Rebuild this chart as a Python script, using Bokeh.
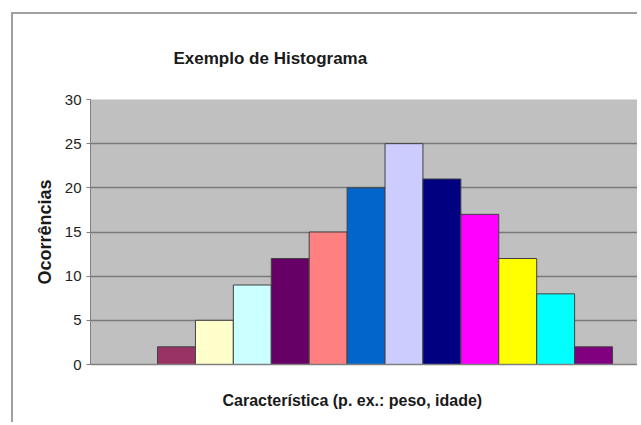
from bokeh.plotting import figure
from bokeh.models import Title, FixedTicker, Range1d
from bokeh.embed import file_html
from bokeh.resources import INLINE

# ---- data ----
classes = [1, 2, 3, 4, 5, 6, 7, 8, 9, 10, 11, 12]
occurrences = [2, 5, 9, 12, 15, 20, 25, 21, 17, 12, 8, 2]
bar_colors = ["#993366", "#FFFFCC", "#CCFFFF", "#660066", "#FF8080", "#0066CC",
              "#CCCCFF", "#000080", "#FF00FF", "#FFFF00", "#00FFFF", "#800080"]
y_ticks = [0, 5, 10, 15, 20, 25, 30]
hidden_ticks = [0]   # invisible tick used only to reserve space below the frame

title_text = "Exemplo de Histograma"
x_label = "Característica (p. ex.: peso, idade)"
y_label = "Ocorrências"

FONT = "Liberation Sans"

# canvas starts at (13, 14) inside the chart border
p = figure(width=626, height=410, output_backend="svg", toolbar_location=None,
           x_range=Range1d(-1.267, 13.211), y_range=Range1d(0, 30),
           min_border_left=77, min_border_top=85, min_border_bottom=60,
           min_border_right=0)
p.styles = {"margin-left": "11px", "margin-top": "12px",
            "border-left": "2px solid #a0a0a0", "border-top": "2px solid #a0a0a0"}

p.background_fill_color = "#C0C0C0"
p.border_fill_color = "white"
p.outline_line_color = None

p.vbar(x=classes, top=occurrences, width=1.0, fill_color=bar_colors,
       line_color="#404040", line_width=1)

# chart title
t = Title(text=title_text, align="left", offset=83, standoff=64,
          text_font=FONT, text_font_size="17px", text_font_style="bold",
          text_color="#1a1a1a")
p.add_layout(t, "above")

# y axis
yax = p.left[0]
yax.ticker = FixedTicker(ticks=y_ticks)
yax.axis_line_color = "#808080"
yax.axis_line_width = 1
yax.major_tick_line_color = "#808080"
yax.major_tick_out = 4
yax.major_tick_in = 0
yax.minor_tick_line_color = None
yax.major_label_text_font = FONT
yax.major_label_text_font_size = "15px"
yax.major_label_text_color = "#222222"
yax.major_label_standoff = 5
yax.axis_label = y_label
yax.axis_label_text_font = FONT
yax.axis_label_text_font_size = "18px"
yax.axis_label_text_font_style = "bold"
yax.axis_label_text_color = "#1a1a1a"
yax.axis_label_standoff = 7

# x axis: baseline only (an invisible tick spaces the axis title)
xax = p.below[0]
xax.ticker = FixedTicker(ticks=hidden_ticks)
xax.axis_line_color = "#808080"
xax.axis_line_width = 1.5
xax.major_tick_line_color = None
xax.minor_tick_line_color = None
xax.major_tick_out = 25
xax.major_tick_in = 0
xax.minor_tick_out = 0
xax.minor_tick_in = 0
xax.major_label_standoff = 0
xax.major_label_text_color = None
xax.major_label_text_font_size = "2px"

xt = Title(text=x_label, align="left", offset=132, standoff=0,
           text_font=FONT, text_font_size="16px", text_font_style="bold",
           text_color="#1a1a1a")
p.add_layout(xt, "below")

# grid
p.xgrid.grid_line_color = None
p.ygrid.grid_line_color = "#7a7a7a"
p.ygrid.grid_line_width = 1.5
p.ygrid.ticker = FixedTicker(ticks=y_ticks)

open("out.html", "w").write(file_html(p, INLINE))
